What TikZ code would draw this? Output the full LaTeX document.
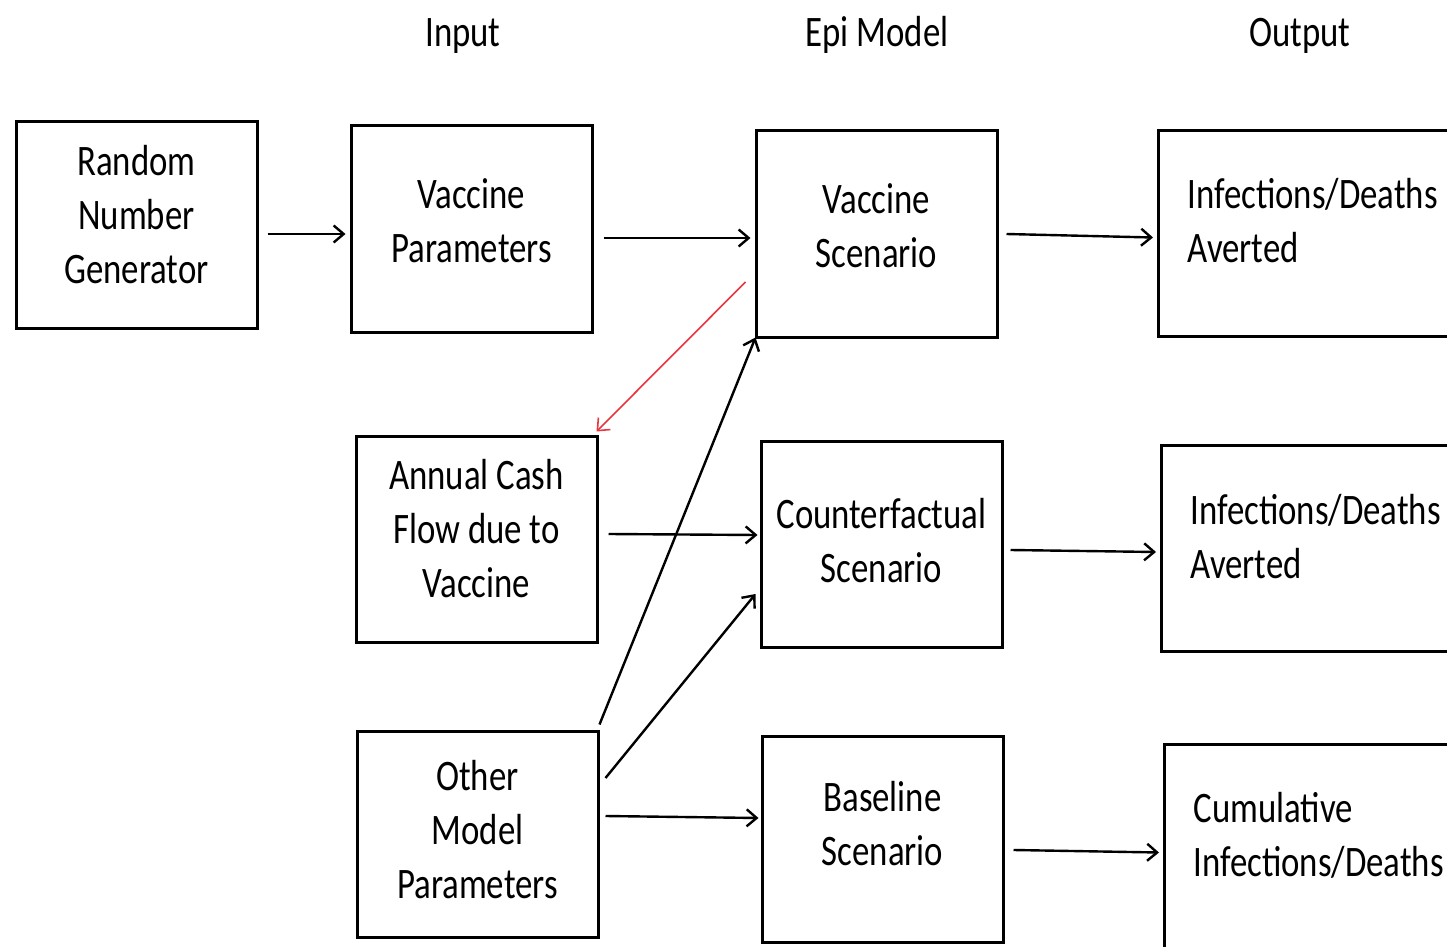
\documentclass[tikz,border=0pt]{standalone}
\usepackage{fontspec}
\setmainfont{Carlito}[FakeStretch=0.8]
\usetikzlibrary{arrows.meta}
\definecolor{arrred}{RGB}{232,54,62}
\tikzset{
  boxfont/.style={font=\fontsize{21.75pt}{27pt}\selectfont},
  box/.style={draw=black, line width=1.5pt, minimum width=120.5pt, minimum height=103pt,
    align=center, inner sep=0pt, boxfont,
    execute at begin node={\rule{0pt}{20pt}},
    execute at end node={\rule[-#1]{0pt}{0pt}}},
  outbox/.style={draw=black, line width=1.5pt, minimum height=103pt, anchor=north west,
    text width=150pt, inner xsep=14.5pt, inner ysep=0pt, align=left, boxfont,
    execute at begin node={\rule{0pt}{20pt}},
    execute at end node={\rule[-#1]{0pt}{0pt}}},
  hdr/.style={anchor=base, inner sep=0pt, boxfont},
  arr/.style={-{Straight Barb[length=5pt,width=8.5pt]}, line width=1.2pt, black},
  redarr/.style={-{Straight Barb[length=5pt,width=8.5pt]}, line width=0.8pt, arrred}
}
\begin{document}
\begin{tikzpicture}[x=0.5pt,y=-0.5pt]
\clip (0,0) rectangle (1447,947);
\useasboundingbox (0,0) rectangle (1447,947);
\fill[white] (0,0) rectangle (1447,947);

\node[hdr] (hin) at (463,47) {Input};
\node[hdr] (hepi) at (877,47) {Epi Model};
\node[hdr] (hout) at (1300,47) {Output};

\node[box=11pt] (rng) at (136.5,225) {Random\\Number\\Generator};
\node[box=8pt] (vp) at (471.5,229) {Vaccine\\Parameters};
\node[box=8pt] (vs) at (876.5,234) {Vaccine\\Scenario};
\node[outbox=18pt] (ida1) at (1157,129) {Infections/Deaths\\Averted};

\node[box=11pt] (acf) at (476.5,539) {Annual Cash\\Flow due to\\Vaccine};
\node[box=4pt] (cs) at (881.5,544) {Counterfactual\\Scenario};
\node[outbox=17pt] (ida2) at (1160,444) {Infections/Deaths\\Averted};

\node[box=5pt] (omp) at (477.5,834) {Other\\Model\\Parameters};
\node[box=16pt] (bs) at (882.5,839) {Baseline\\Scenario};
\node[outbox=18pt] (cum) at (1163,743) {Cumulative\\Infections/Deaths};

\draw[arr] ([xshift=4.5pt,yshift=-4.5pt]rng.east) -- ([xshift=-2pt,yshift=-2.5pt]vp.west);
\draw[arr] ([xshift=5pt,yshift=-4.5pt]vp.east) -- ([xshift=-2pt,yshift=-2pt]vs.west);
\draw[arr] ([xshift=4pt]vs.east) -- ([xshift=-2pt,yshift=-2pt]ida1.west);
\draw[arr] ([xshift=5pt,yshift=2.5pt]acf.east) -- ([xshift=-1pt,yshift=4.5pt]cs.west);
\draw[arr] ([xshift=3.5pt,yshift=-3pt]cs.east) -- ([xshift=-2pt,yshift=-1.75pt]ida2.west);
\draw[arr] ([xshift=3pt,yshift=9pt]omp.east) -- ([xshift=-1pt,yshift=10.5pt]bs.west);
\draw[arr] ([xshift=4.5pt,yshift=-5.5pt]bs.east) -- ([xshift=-2pt,yshift=-2.5pt]cum.west);
\draw[arr] ([yshift=2.5pt]omp.north east) -- ([xshift=0.5pt,yshift=0.5pt]vs.south west);
\draw[arr] ([xshift=3pt,yshift=28pt]omp.east) -- ([xshift=-2pt,yshift=-25pt]cs.west);
\draw[redarr] ([xshift=-4.5pt,yshift=-24pt]vs.west) -- ([xshift=-1pt,yshift=1.5pt]acf.north east);
\end{tikzpicture}
\end{document}
